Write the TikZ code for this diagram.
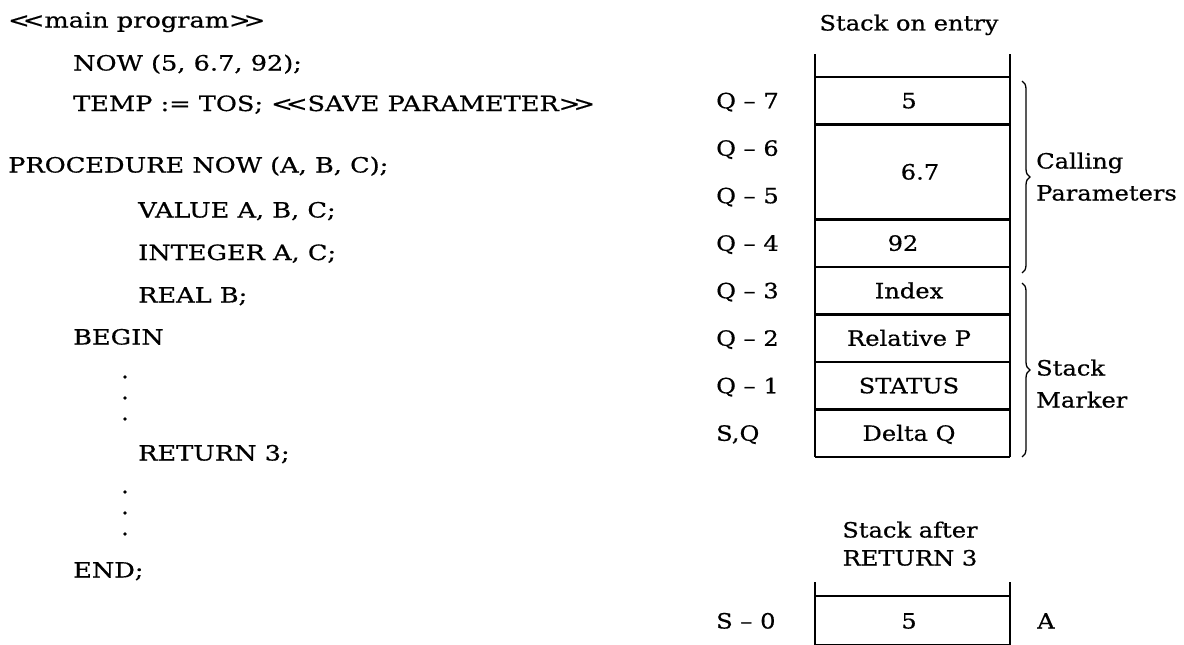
\documentclass[tikz,border=0pt]{standalone}
\usepackage{fontspec}
\setmainfont{DejaVu Serif}[Ligatures=TeXOff]
\newfontfamily\codefont{DejaVu Serif}[Ligatures=TeXOff, FakeStretch=1.22, FakeBold=0.6]
\newfontfamily\diagfont{DejaVu Serif}[Ligatures=TeXOff, FakeStretch=1.15, FakeBold=0.6]
\newcommand{\dless}{<\kern-0.32em<}
\newcommand{\dgreater}{>\kern-0.32em>}
\usetikzlibrary{decorations.pathreplacing}
\begin{document}
\begin{tikzpicture}[x=1pt,y=-1pt,
  code/.style={inner sep=0pt, anchor=base west, font=\codefont\fontsize{21}{25}\selectfont},
  cell/.style={inner sep=0pt, anchor=base, font=\diagfont\fontsize{21}{25}\selectfont},
  lbl/.style={inner sep=0pt, anchor=base west, font=\diagfont\fontsize{21}{25}\selectfont},
  dotmark/.style={circle, fill=black, inner sep=0pt, minimum size=3.8pt},
  stackline/.style={line width=2.6pt},
  bracestyle/.style={line width=1.3pt, decorate, decoration={brace, amplitude=8pt}}]
\useasboundingbox (0,0) rectangle (1184,645);
% code
\node[code] (l1) at (8,27.5) {\dless main program\dgreater};
\node[code] (l2) at (73,70.5) {NOW (5, 6.7, 92);};
\node[code] (l3) at (73,111) {TEMP := TOS; \dless SAVE PARAMETER\dgreater};
\node[code] (l4) at (8,172.5) {PROCEDURE NOW (A, B, C);};
\node[code] (l5) at (138,217.5) {VALUE A, B, C;};
\node[code] (l6) at (138,260) {INTEGER A, C;};
\node[code] (l7) at (138,302.5) {REAL B;};
\node[code] (l8) at (73,344.5) {BEGIN};
\node[dotmark] (d1) at (125,377) {};
\node[dotmark] (d2) at (125,398) {};
\node[dotmark] (d3) at (125,419) {};
\node[code] (l9) at (138,460.5) {RETURN 3;};
\node[dotmark] (d4) at (125,492) {};
\node[dotmark] (d5) at (125,513) {};
\node[dotmark] (d6) at (125,534) {};
\node[code] (l10) at (73,577.5) {END;};
% stack on entry
\node[cell] (t1) at (909,30.5) {Stack on entry};
\draw[stackline] (815,54) -- (815,457);
\draw[stackline] (1010,54) -- (1010,457);
\foreach \yy in {77,124.5,219.5,267,314.5,362,409.5,457}
  \draw[stackline] (815,\yy) -- (1010,\yy);
\node[cell] (c1) at (909,108.25) {5};
\node[cell] (c2) at (920,179.5) {6.7};
\node[cell] (c3) at (903,250.75) {92};
\node[cell] (c4) at (909,298.25) {Index};
\node[cell] (c5) at (909,345.75) {Relative P};
\node[cell] (c6) at (909,393.25) {STATUS};
\node[cell] (c7) at (909,440.75) {Delta Q};
\node[lbl] (q7) at (716,108.25) {Q – 7};
\node[lbl] (q6) at (716,155.75) {Q – 6};
\node[lbl] (q5) at (716,203.25) {Q – 5};
\node[lbl] (q4) at (716,250.75) {Q – 4};
\node[lbl] (q3) at (716,298.25) {Q – 3};
\node[lbl] (q2) at (716,345.75) {Q – 2};
\node[lbl] (q1) at (716,393.25) {Q – 1};
\node[lbl] (sq) at (716,440.75) {S,Q};
\draw[bracestyle] (1022,81) -- (1022,273);
\draw[bracestyle] (1022,283) -- (1022,457);
\node[lbl] (cp1) at (1036,168.5) {Calling};
\node[lbl] (cp2) at (1036,200.5) {Parameters};
\node[lbl] (sm1) at (1036,375.5) {Stack};
\node[lbl] (sm2) at (1036,407.5) {Marker};
% stack after return
\node[cell] (t2) at (910,537.5) {Stack after};
\node[cell] (t3) at (910,565.5) {RETURN 3};
\draw[stackline] (815,582) -- (815,645);
\draw[stackline] (1010,582) -- (1010,645);
\draw[stackline] (815,596) -- (1010,596);
\draw[stackline] (815,645) -- (1010,645);
\node[cell] (b1) at (909,628.5) {5};
\node[lbl] (s0) at (716,628.5) {S – 0};
\node[lbl] (a) at (1037,628.5) {A};
\end{tikzpicture}
\end{document}
